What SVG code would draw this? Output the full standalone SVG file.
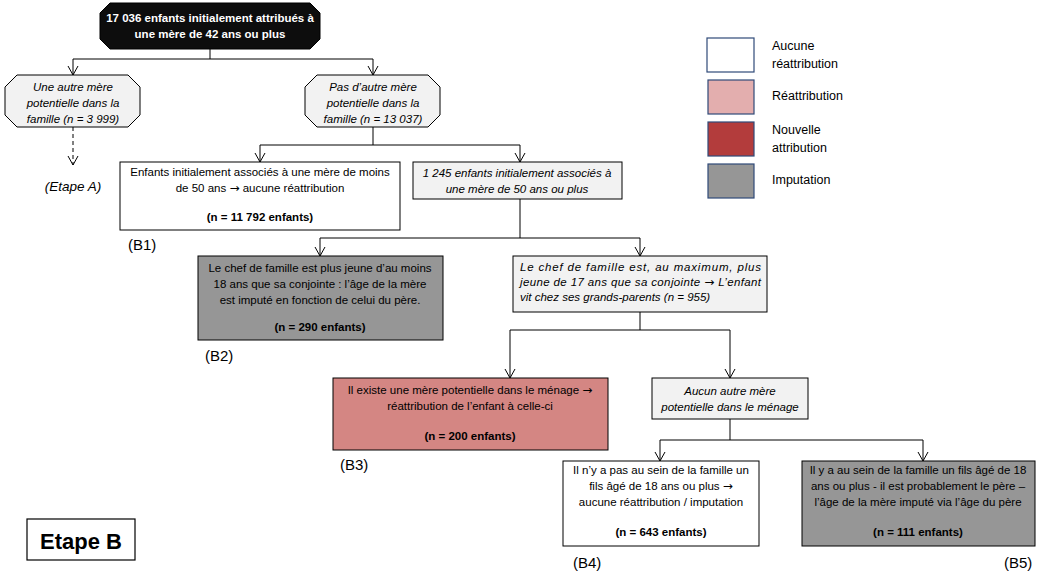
<svg xmlns="http://www.w3.org/2000/svg" width="1050" height="575" viewBox="0 0 1050 575">
<defs>
<marker id="arr" markerWidth="12" markerHeight="12" refX="11" refY="6" orient="auto" markerUnits="userSpaceOnUse" viewBox="0 0 12 12">
<polyline points="2,1 11,6 2,11" fill="none" stroke="#000" stroke-width="1"/>
</marker>
</defs>
<style>
text{font-family:"Liberation Sans",Arial,sans-serif;font-size:11.5px;fill:#000;}
.c{text-anchor:middle;}
.i{font-style:italic;}
.b{font-weight:bold;}
.w{fill:#fff;}
.box{stroke:#000;stroke-width:1;}
.wh{fill:#fff;}
.lg{fill:#f2f2f2;}
.gr{fill:#969696;}
.pk{fill:#d48683;}
.ln{fill:none;stroke:#000;stroke-width:1;}
.ar{fill:none;stroke:#000;stroke-width:1;marker-end:url(#arr);}
.leg{stroke:#2f4a78;stroke-width:1.2;}
.lt{font-size:12.5px;}
.lab{font-size:15px;}
.ra{font-family:"DejaVu Sans",sans-serif;font-style:normal;font-size:12px;}
</style>
<rect width="1050" height="575" fill="#fff"/>
<g id="connectors">
<path class="ln" d="M210,49 V59 M73,59 H373"/>
<path class="ar" d="M73,59 V75"/>
<path class="ar" d="M373,59 V75"/>
<path class="ar" d="M73,127 V165" stroke-dasharray="4,3"/>
<path class="ln" d="M373,127 V145 M260,145 H520"/>
<path class="ar" d="M260,145 V162"/>
<path class="ar" d="M520,145 V162"/>
<path class="ln" d="M520,199 V238 M320,238 H640"/>
<path class="ar" d="M320,238 V256"/>
<path class="ar" d="M640,238 V256"/>
<path class="ln" d="M640,312 V330 M510,330 H730"/>
<path class="ar" d="M510,330 V378"/>
<path class="ar" d="M730,330 V378"/>
<path class="ln" d="M730,419 V440 M660,440 H923"/>
<path class="ar" d="M660,440 V461"/>
<path class="ar" d="M923,440 V461"/>
</g>
<g id="n0">
<polygon class="box" fill="#0d0d0d" points="110,3 310,3 320,13 320,39 310,49 110,49 100,39 100,13"/>
<text class="c b w" x="210" y="22">17 036 enfants initialement attribués à</text>
<text class="c b w" x="210" y="38">une mère de 42 ans ou plus</text>
</g>
<g id="nA">
<polygon class="box lg" points="17,75 128,75 140,87 140,115 128,127 17,127 5,115 5,87"/>
<text class="c i" x="73" y="91">Une autre mère</text>
<text class="c i" x="73" y="107">potentielle dans la</text>
<text class="c i" x="73" y="123">famille (n = 3 999)</text>
</g>
<g id="etapeA">
<text class="c i" style="font-size:13.5px" x="73" y="191">(Etape A)</text>
</g>
<g id="nP">
<polygon class="box lg" points="317,75 428,75 440,87 440,115 428,127 317,127 305,115 305,87"/>
<text class="c i" x="373" y="91">Pas d’autre mère</text>
<text class="c i" x="373" y="107">potentielle dans la</text>
<text class="c i" x="373" y="123">famille (n = 13 037)</text>
</g>
<g id="nB1">
<rect class="box wh" x="120" y="162" width="280" height="68"/>
<text class="c" x="260" y="176">Enfants initialement associés à une mère de moins</text>
<text class="c" x="260" y="192">de 50 ans <tspan class="ra">→</tspan> aucune réattribution</text>
<text class="c b" x="260" y="221">(n = 11 792 enfants)</text>
<text class="lab" x="128" y="250">(B1)</text>
</g>
<g id="n1245">
<rect class="box lg" x="413" y="162" width="209" height="37"/>
<text class="c i" x="517" y="177">1 245 enfants initialement associés à</text>
<text class="c i" x="517" y="193">une mère de 50 ans ou plus</text>
</g>
<g id="nB2">
<rect class="box gr" x="198" y="256" width="245" height="84"/>
<text class="c" x="320" y="272">Le chef de famille est plus jeune d’au moins</text>
<text class="c" x="320" y="288">18 ans que sa conjointe : l’âge de la mère</text>
<text class="c" x="320" y="304">est imputé en fonction de celui du père.</text>
<text class="c b" x="320" y="331">(n = 290 enfants)</text>
<text class="lab" x="205" y="361">(B2)</text>
</g>
<g id="nChef">
<rect class="box lg" x="513" y="256" width="254" height="56"/>
<text class="i" x="520" y="271" textLength="241" lengthAdjust="spacing">Le chef de famille est, au maximum, plus</text>
<text class="i" x="520" y="286" textLength="241" lengthAdjust="spacing">jeune de 17 ans que sa conjointe <tspan class="ra">→</tspan> L’enfant</text>
<text class="i" x="520" y="301">vit chez ses grands-parents (n = 955)</text>
</g>
<g id="nB3">
<rect class="box pk" x="333" y="378" width="275" height="72"/>
<text class="c" x="470" y="394">Il existe une mère potentielle dans le ménage <tspan class="ra">→</tspan></text>
<text class="c" x="470" y="410">réattribution de l’enfant à celle-ci</text>
<text class="c b" x="470" y="440">(n = 200 enfants)</text>
<text class="lab" x="340" y="470">(B3)</text>
</g>
<g id="nAucun">
<rect class="box lg" x="652" y="378" width="156" height="41"/>
<text class="c i" x="730" y="395">Aucun autre mère</text>
<text class="c i" x="730" y="411">potentielle dans le ménage</text>
</g>
<g id="nB4">
<rect class="box wh" x="563" y="461" width="196" height="85"/>
<text class="c" x="661" y="474">Il n’y a pas au sein de la famille un</text>
<text class="c" x="661" y="490">fils âgé de 18 ans ou plus <tspan class="ra">→</tspan></text>
<text class="c" x="661" y="506">aucune réattribution / imputation</text>
<text class="c b" x="661" y="536">(n = 643 enfants)</text>
<text class="lab" x="573" y="568">(B4)</text>
</g>
<g id="nB5">
<rect class="box gr" x="802" y="461" width="233" height="85"/>
<text class="c" x="918" y="474">Il y a au sein de la famille un fils âgé de 18</text>
<text class="c" x="918" y="490">ans ou plus  - il est probablement le père –</text>
<text class="c" x="918" y="506">l’âge de la mère imputé via l’âge du père</text>
<text class="c b" x="918" y="536">(n = 111 enfants)</text>
<text class="lab" x="1004" y="568">(B5)</text>
</g>
<g id="legend">
<rect class="leg" fill="#fff" x="707" y="38" width="47" height="34"/>
<rect class="leg" fill="#e3aeae" x="708" y="80" width="46" height="34"/>
<rect class="leg" fill="#b33c3c" x="708" y="122" width="46" height="34"/>
<rect class="leg" fill="#969696" x="708" y="164" width="46" height="34"/>
<text class="lt" x="772" y="50">Aucune</text>
<text class="lt" x="772" y="68">réattribution</text>
<text class="lt" x="772" y="100">Réattribution</text>
<text class="lt" x="772" y="134">Nouvelle</text>
<text class="lt" x="772" y="152">attribution</text>
<text class="lt" x="772" y="184">Imputation</text>
</g>
<g id="etapeB">
<rect fill="#fff" stroke="#000" stroke-width="1.2" x="27" y="519" width="108" height="41"/>
<text class="c b" x="81" y="549" style="font-size:22px">Etape B</text>
</g>
</svg>
